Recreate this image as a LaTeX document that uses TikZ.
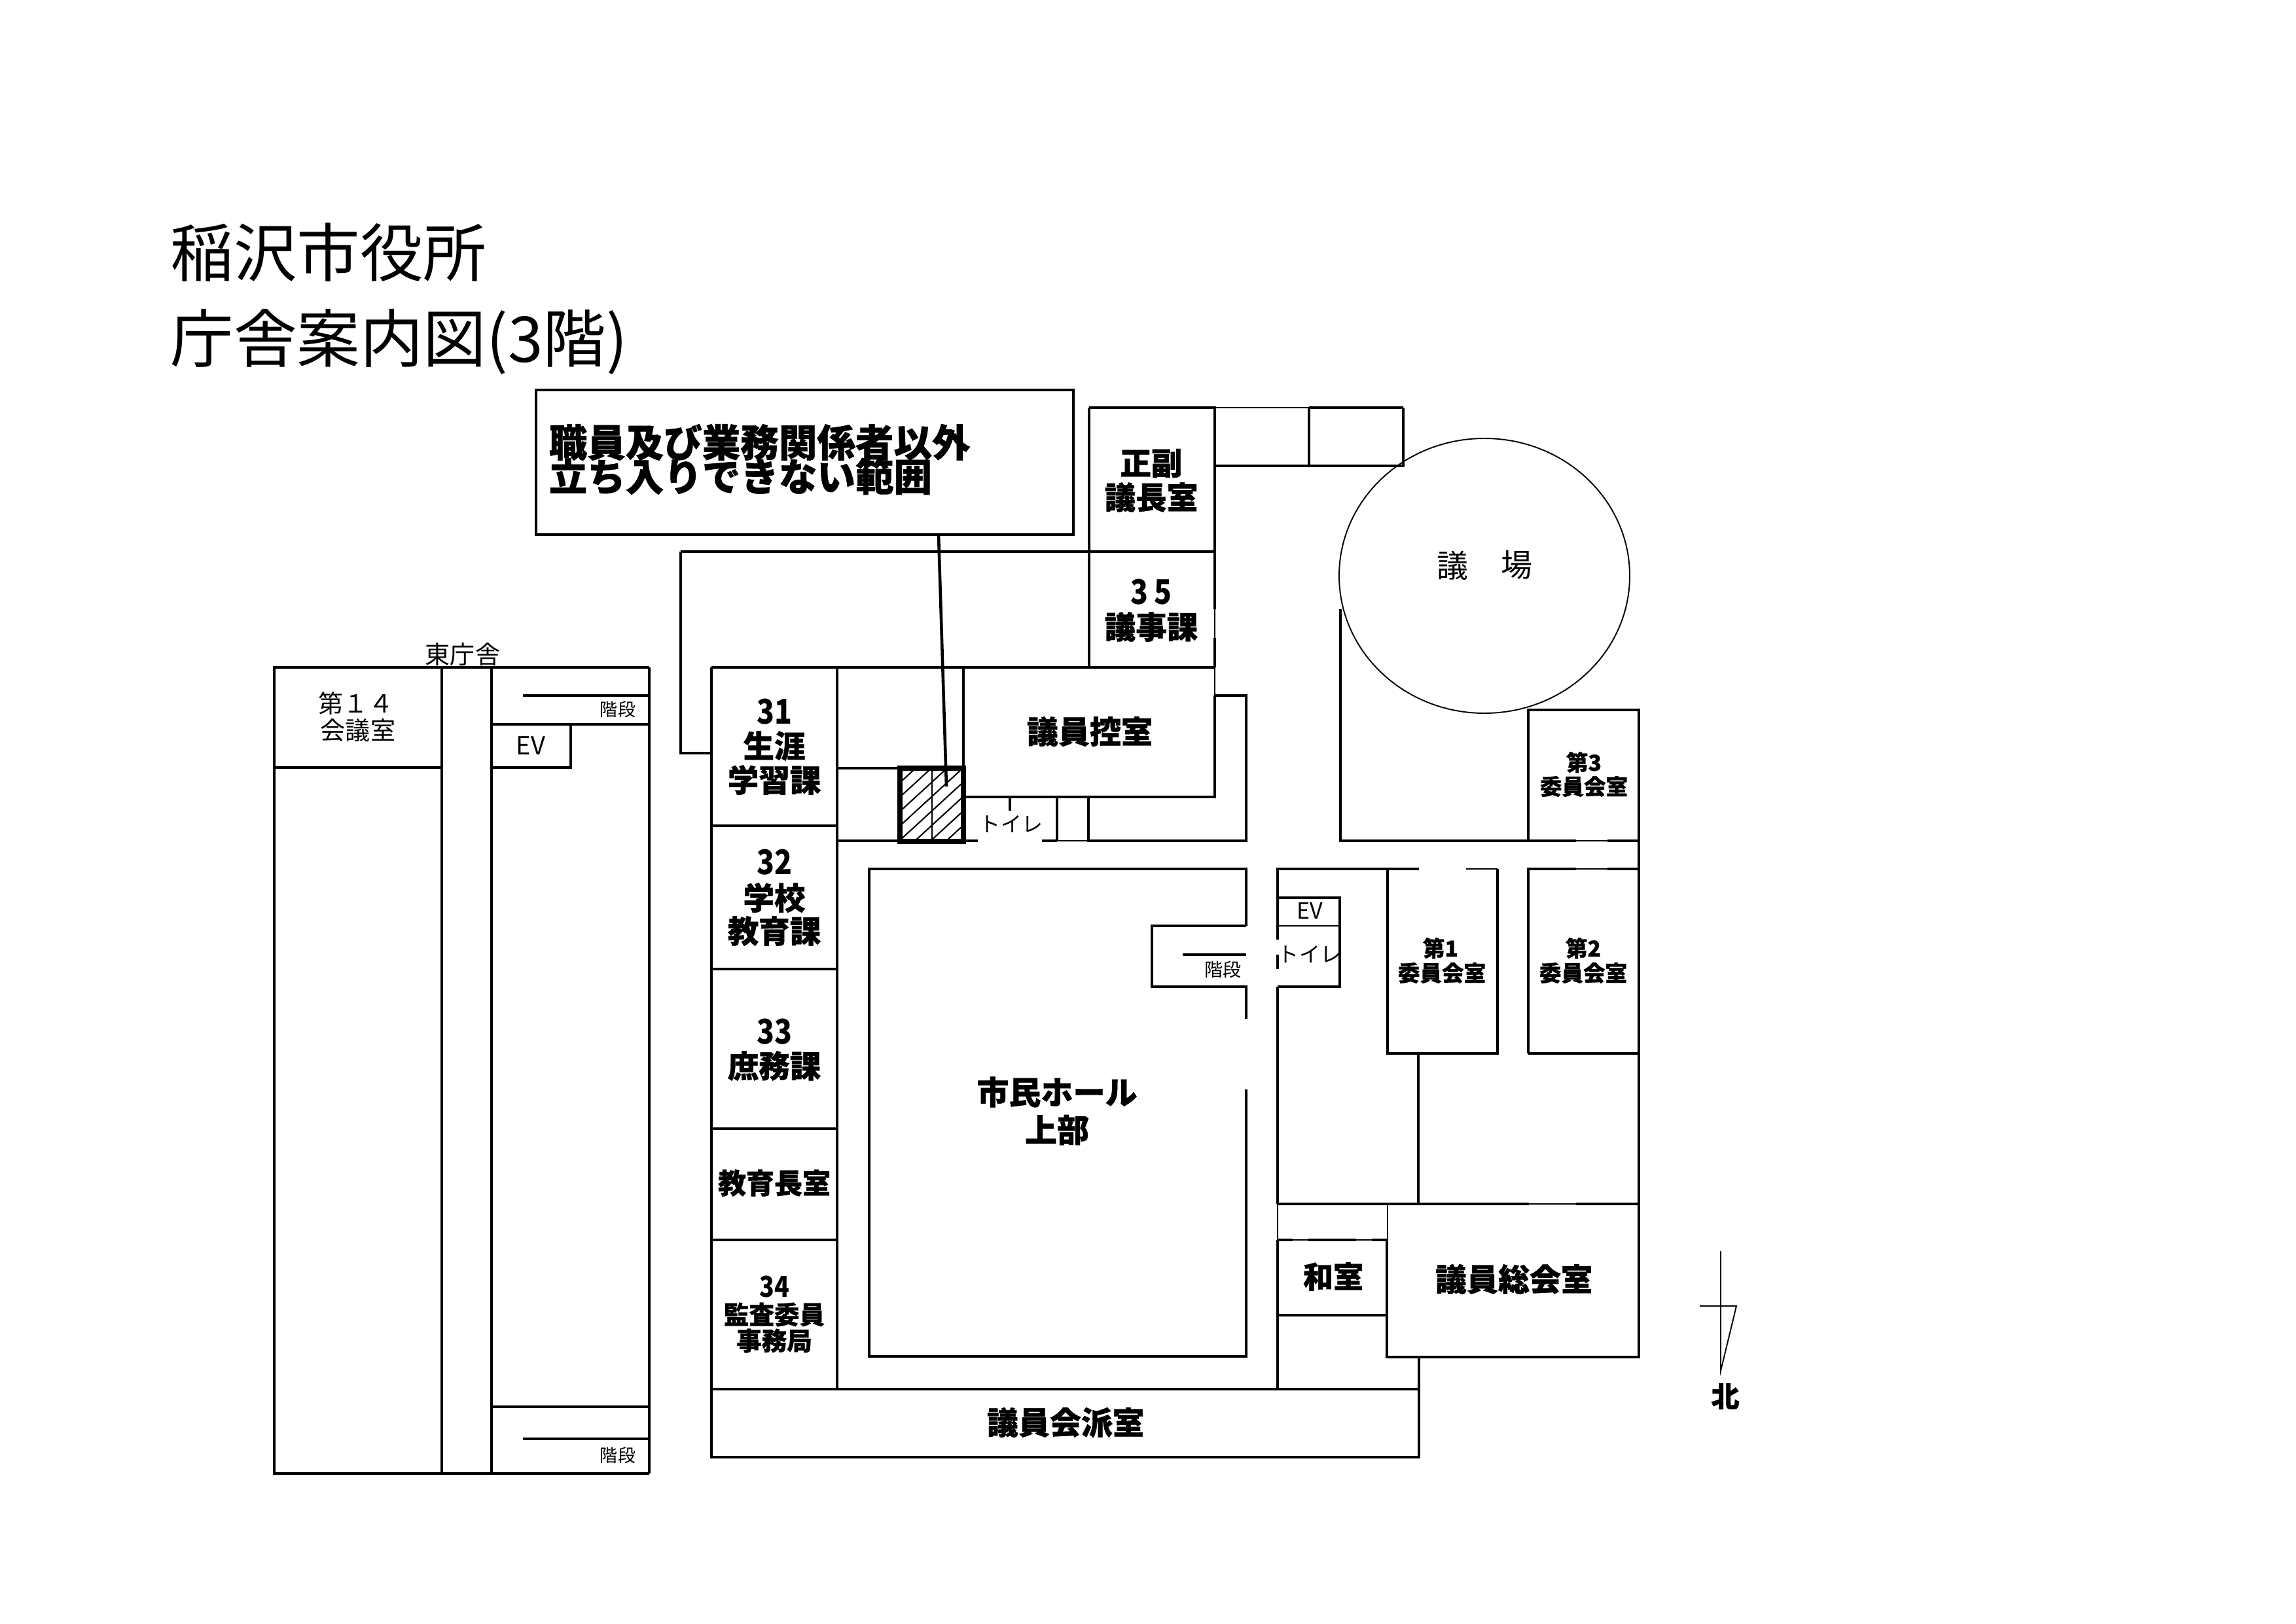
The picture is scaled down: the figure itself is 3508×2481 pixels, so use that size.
\documentclass[tikz,border=0pt]{standalone}
\usepackage{fontspec}
\setmainfont{Noto Sans CJK JP}
\newfontfamily\hv[BoldFeatures={FakeBold=0.9}]{Noto Sans CJK JP}
\newfontfamily\dg[FakeStretch=0.85]{Noto Sans CJK JP}
\newfontfamily\lt{Noto Sans CJK JP}
\newcommand\szpx[1]{\fontsize{\fpeval{#1*0.2845}}{\fpeval{#1*0.2845}}\selectfont}
\tikzset{
  wall/.style={line width=1.3pt,line cap=square,line join=miter},
  midw/.style={line width=1pt,line join=miter},
  thinw/.style={line width=.55pt},
  heavyw/.style={line width=2.1pt,line join=miter},
  hatchl/.style={line width=.6pt},
  bl/.style={inner sep=0pt,font={\hv\bfseries\szpx{#1}}},
  nl/.style={inner sep=0pt,font={\dg\bfseries\szpx{#1}}},
  rl/.style={inner sep=0pt,font={\lt\szpx{#1}}}
}
\begin{document}
\begin{tikzpicture}[x=0.01cm,y=-0.01cm]
\useasboundingbox (0,0) rectangle (3508,2481);
% title
\node[rl=96.5,anchor=west] (t1) at (260,386) {稲沢市役所};
\node[rl=96.5,anchor=west] (t2) at (260,522) {庁舎案内図(3階)};
% notice box
\draw[wall] (819,596) rectangle (1640,817);
\node[bl=58.5,anchor=west] (n1) at (838,676) {職員及び業務関係者以外};
\node[bl=58.5,anchor=west] (n2) at (838,728) {立ち入りできない範囲};
\draw[wall,line cap=butt] (1434,817) -- (1446,1202);
% east building
\draw[wall] (992,2252) -- (419,2252) -- (419,1020) -- (992,1020);
\draw[midw] (992,1020) -- (992,2252);
\draw[midw] (675,1020) -- (675,2252);
\draw[midw] (751,1020) -- (751,2252);
\draw[midw] (419,1173) -- (675,1173);
\draw[midw] (751,1107) -- (992,1107);
\draw[midw] (872,1107) -- (872,1173) -- (751,1173);
\draw[midw] (799,1063) -- (992,1063);
\draw[midw] (751,2150) -- (992,2150);
\draw[midw] (799,2199) -- (992,2199);
\node[rl=38] (e0) at (707,1000) {東庁舎};
\node[rl=38] (e1) at (544,1075) {第１４};
\node[rl=38] (e2) at (547,1116) {会議室};
\node[rl=38] (e3) at (811,1140) {EV};
\node[rl=27] (e4) at (944,1084) {階段};
\node[rl=27] (e5) at (944,2224) {階段};
% main building walls
\draw[wall] (1040,843) -- (1664,843);
\draw[wall] (1040,843) -- (1040,1151) -- (1087,1151);
\draw[wall] (1664,623) -- (1664,1020);
\draw[wall] (1664,623) -- (1856,623) -- (1856,931);
\draw[thinw] (1856,931) -- (1856,975);
\draw[wall] (1856,975) -- (1856,1020);
\draw[thinw] (1856,1020) -- (1856,1063);
\draw[wall] (1664,843) -- (1856,843);
\draw[wall] (1087,1020) -- (1856,1020);
\draw[wall] (1856,1063) -- (1904,1063) -- (1904,1285) -- (1663,1285) -- (1663,1218);
\draw[wall] (1856,1063) -- (1856,1218) -- (1472,1218);
\draw[wall] (1087,1020) -- (1087,2227) -- (2168,2227) -- (2168,2074);
\draw[midw] (1279,1020) -- (1279,2123);
\draw[midw] (1472,1020) -- (1472,1174);
\foreach \yy in {1262,1481,1725,1895} \draw[midw] (1087,\yy) -- (1279,\yy);
\draw[midw] (1087,2123) -- (2168,2123);
\draw[midw] (1279,1174) -- (1375,1174);
\draw[midw] (1279,1285) -- (1375,1285);
% hatched core
\begin{scope}
\clip (1375,1174) rectangle (1472,1286);
\foreach \k in {0,...,8} \draw[hatchl] ({1399+24*\k},1174) -- ++(-121,111);
\end{scope}
\draw[hatchl] (1424,1174) -- (1424,1286);
\draw[heavyw] (1375,1174) rectangle (1472,1286);
% toilet north
\draw[wall] (1472,1285) -- (1494,1285);
\draw[wall] (1592,1285) -- (1615,1285);
\draw[thinw] (1615,1285) -- (1663,1285);
\draw[midw] (1615,1218) -- (1615,1285);
\draw[midw] (1543,1218) -- (1543,1239);
\node[rl=32] (to1) at (1545,1259) {トイレ};
% hall
\draw[wall] (1904,1415) -- (1904,1328) -- (1328,1328) -- (1328,2073) -- (1904,2073) -- (1904,1665);
\draw[wall] (1904,1557) -- (1904,1508) -- (1760,1508) -- (1760,1415) -- (1904,1415);
\draw[wall] (1807,1459) -- (1904,1459);
\node[rl=28] (st) at (1868,1482) {階段};
% right block
\draw[wall] (1952,1436) -- (1952,1328) -- (2168,1328);
\draw[thinw] (2240,1328) -- (2288,1328);
\draw[wall] (2288,1328) -- (2288,1610) -- (2120,1610) -- (2120,1328);
\draw[wall] (1952,1459) -- (1952,1481);
\draw[wall] (1952,1508) -- (1952,1840);
\draw[wall] (1952,1372) -- (2047,1372) -- (2047,1508) -- (1952,1508);
\draw[thinw] (1952,1415) -- (2047,1415);
\node[rl=34] (ev) at (2001,1392) {EV};
\node[rl=32] (to2) at (2001,1458) {トイレ};
% committee rooms
\draw[wall] (2335,1610) -- (2335,1328) -- (2408,1328);
\draw[thinw] (2408,1328) -- (2456,1328);
\draw[wall] (2456,1328) -- (2504,1328);
\draw[wall] (2335,1610) -- (2504,1610);
\draw[wall] (2335,1285) -- (2335,1085) -- (2504,1085) -- (2504,2074) -- (2119,2074) -- (2119,1895);
\draw[wall] (2048,931) -- (2048,1285) -- (2408,1285);
\draw[thinw] (2408,1285) -- (2456,1285);
\draw[wall] (2456,1285) -- (2504,1285);
\draw[midw] (2167,1610) -- (2167,1840);
\draw[wall] (1952,1840) -- (2336,1840);
\draw[thinw] (2336,1840) -- (2408,1840);
\draw[wall] (2408,1840) -- (2504,1840);
\draw[thinw] (1952,1840) -- (1952,1895);
\draw[thinw] (2120,1840) -- (2120,1895);
\draw[wall] (1952,1895) -- (1975,1895);
\draw[thinw] (1975,1895) -- (1999,1895);
\draw[wall] (1999,1895) -- (2072,1895);
\draw[thinw] (2072,1895) -- (2096,1895);
\draw[wall] (2096,1895) -- (2120,1895);
\draw[wall] (1952,2010) -- (2120,2010);
\draw[midw] (1952,1895) -- (1952,2123);
% upper east rooms
\draw[thinw] (1856,623) -- (2000,623);
\draw[wall] (2000,623) -- (2144,623);
\draw[midw] (2144,623) -- (2144,712) -- (1856,712);
\draw[midw] (2000,623) -- (2000,712);
\draw[thinw] (2268,880) ellipse [x radius=222,y radius=210];
% labels
\node[rl=48] (g1) at (2219,864) {議};
\node[rl=48] (g2) at (2317,864) {場};
\node[bl=47.5] (a1) at (1759,708) {正副};
\node[bl=47.5] (a2) at (1759,760) {議長室};
\node[nl=52] (b1) at (1759,905) {3\,5};
\node[bl=47.5] (b2) at (1759,958) {議事課};
\node[bl=48] (c1) at (1665,1118) {議員控室};
\node[nl=52] (r1a) at (1183,1088) {31};
\node[bl=47.5] (r1b) at (1183,1140) {生涯};
\node[bl=47.5] (r1c) at (1183,1192) {学習課};
\node[nl=52] (r2a) at (1183,1318) {32};
\node[bl=47.5] (r2b) at (1183,1372) {学校};
\node[bl=47.5] (r2c) at (1183,1423) {教育課};
\node[nl=52] (r3a) at (1183,1577) {33};
\node[bl=47.5] (r3b) at (1183,1629) {庶務課};
\node[bl=43] (r4) at (1183,1808) {教育長室};
\node[nl=44] (r5a) at (1183,1966) {34};
\node[bl=38.5] (r5b) at (1183,2009) {監査委員};
\node[bl=38.5] (r5c) at (1183,2049) {事務局};
\node[bl=49] (h1) at (1615,1669) {市民ホール};
\node[bl=49] (h2) at (1615,1727) {上部};
\node[bl=48] (k) at (1628,2174) {議員会派室};
\node[bl=33.5] (i1a) at (2201,1449) {第1};
\node[bl=33.5] (i1b) at (2203,1487) {委員会室};
\node[bl=33.5] (i2a) at (2419,1449) {第2};
\node[bl=33.5] (i2b) at (2419,1487) {委員会室};
\node[bl=33.5] (i3a) at (2420,1165) {第3};
\node[bl=33.5] (i3b) at (2420,1202) {委員会室};
\node[bl=46] (w) at (2037,1951) {和室};
\node[bl=48] (s) at (2313,1955) {議員総会室};
% north mark
\draw[thinw] (2629,1912) -- (2629,2095) -- (2653,1996) -- (2597,1996);
\node[bl=43] (north) at (2636,2134) {北};
\end{tikzpicture}
\end{document}
